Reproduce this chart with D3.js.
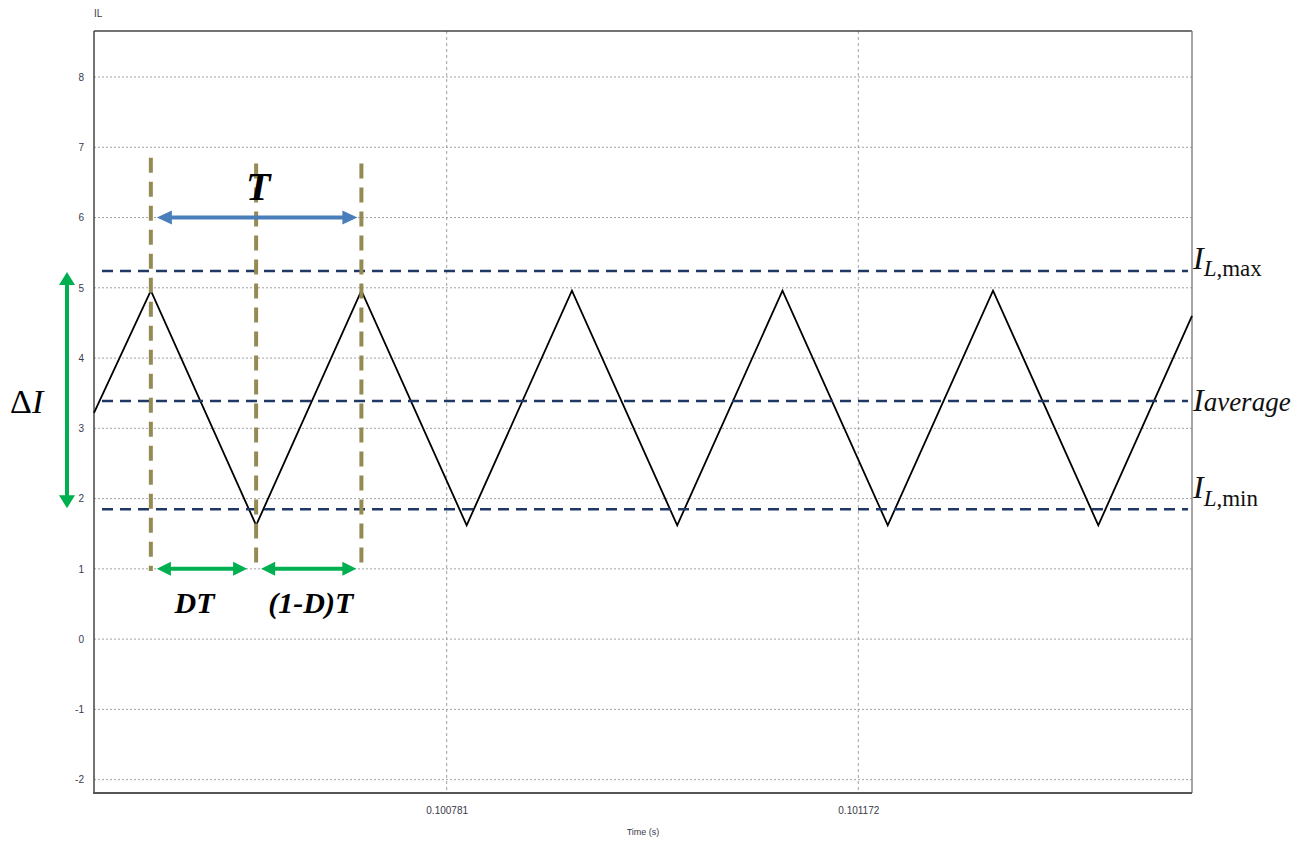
<!DOCTYPE html>
<html>
<head>
<meta charset="utf-8">
<script src="https://cdn.jsdelivr.net/npm/d3@7"></script>
<style>
  html, body { margin: 0; padding: 0; background: #fff; }
  svg { display: block; }
</style>
</head>
<body>
<svg id="chart" width="1300" height="841"></svg>
<script>
// Inductor current waveform of a switching converter
const timeTicks = [0.100781, 0.101172];
const timeTickLabels = ["0.100781", "0.101172"];
const currentTicks = [-2, -1, 0, 1, 2, 3, 4, 5, 6, 7, 8];

// vertices of the triangular inductor current (time in s, current in A)
const vertexTimes = [0.100446, 0.1005, 0.1006, 0.1007, 0.1008, 0.1009, 0.1010, 0.1011, 0.1012, 0.1013, 0.1014, 0.101489];
const vertexCurrents = [3.22, 4.96, 1.62, 4.96, 1.62, 4.96, 1.62, 4.96, 1.62, 4.96, 1.62, 4.60];

// reference levels drawn as dashed lines
const levelKeys = ["max", "average", "min"];
const levelValues = [5.24, 3.39, 1.85];

// switching instants marking one period
const switchTimes = [0.1005, 0.1006, 0.1007];

const svg = d3.select("#chart");
const plotL = 94, plotR = 1192, plotT = 31, plotB = 793;

const x = d3.scaleLinear().domain([0.100446, 0.101489]).range([plotL, plotR]);
const y = d3.scaleLinear().domain([-2.19, 8.655]).range([plotB, plotT]);

// grid
const grid = svg.append("g");
grid.selectAll(".hg").data(currentTicks).join("line")
  .attr("x1", plotL).attr("x2", plotR)
  .attr("y1", d => y(d)).attr("y2", d => y(d))
  .attr("stroke", "#a0a0a0").attr("stroke-width", 1)
  .attr("stroke-dasharray", "2,2");
grid.selectAll(".vg").data(timeTicks).join("line")
  .attr("x1", d => x(d)).attr("x2", d => x(d))
  .attr("y1", plotT).attr("y2", plotB)
  .attr("stroke", "#a0a0a0").attr("stroke-width", 1)
  .attr("stroke-dasharray", "3,3");

// axes (labels only, frame drawn separately)
const yAxis = d3.axisLeft(y).tickValues(currentTicks).tickSize(0).tickPadding(10).tickFormat(d => String(d));
const gy = svg.append("g").attr("transform", `translate(${plotL},0)`).call(yAxis);
gy.select(".domain").remove();
gy.selectAll("text").attr("font-family", "Liberation Sans, Arial, sans-serif")
  .attr("font-size", 10).attr("fill", "#3a3a4a");

const xAxis = d3.axisBottom(x).tickValues(timeTicks).tickSize(0).tickPadding(14)
  .tickFormat((d, i) => timeTickLabels[i]);
const gx = svg.append("g").attr("transform", `translate(0,${plotB})`).call(xAxis);
gx.select(".domain").remove();
gx.selectAll("text").attr("font-family", "Liberation Sans, Arial, sans-serif")
  .attr("font-size", 10).attr("fill", "#3a3a4a");

// frame
svg.append("line").attr("x1", plotL).attr("x2", plotL).attr("y1", plotT).attr("y2", plotB)
  .attr("stroke", "#444").attr("stroke-width", 1.5);
svg.append("line").attr("x1", plotL).attr("x2", plotR).attr("y1", plotT).attr("y2", plotT)
  .attr("stroke", "#444").attr("stroke-width", 1.5);
svg.append("line").attr("x1", plotR).attr("x2", plotR).attr("y1", plotT).attr("y2", plotB)
  .attr("stroke", "#888").attr("stroke-width", 1.5);
svg.append("line").attr("x1", plotL - 1).attr("x2", plotR).attr("y1", plotB).attr("y2", plotB)
  .attr("stroke", "#555").attr("stroke-width", 2);

// axis titles
svg.append("text").attr("x", plotL).attr("y", 17).text("IL")
  .attr("font-family", "Liberation Sans, Arial, sans-serif").attr("font-size", 10).attr("fill", "#3a3a4a");
svg.append("text").attr("x", (plotL + plotR) / 2).attr("y", 835).attr("text-anchor", "middle").text("Time (s)")
  .attr("font-family", "Liberation Sans, Arial, sans-serif").attr("font-size", 9).attr("fill", "#3a3a4a");

// waveform
const pts = vertexTimes.map((t, i) => [t, vertexCurrents[i]]);
svg.append("path").datum(pts)
  .attr("d", d3.line().x(d => x(d[0])).y(d => y(d[1])))
  .attr("fill", "none").attr("stroke", "#000").attr("stroke-width", 1.8)
  .attr("stroke-linejoin", "miter");

// dashed level lines
svg.selectAll(".lvl").data(levelValues).join("line")
  .attr("x1", plotL + 8).attr("x2", plotR - 4)
  .attr("y1", d => y(d)).attr("y2", d => y(d))
  .attr("stroke", "#1f3864").attr("stroke-width", 2.5)
  .attr("stroke-dasharray", "11,7");

// switching instants
svg.selectAll(".sw").data(switchTimes).join("line")
  .attr("x1", d => x(d)).attr("x2", d => x(d))
  .attr("y1", (d, i) => i === 0 ? y(6.85) : y(6.77)).attr("y2", y(0.97))
  .attr("stroke", "#948a54").attr("stroke-width", 4)
  .attr("stroke-dasharray", "15,9");

// double-headed arrow helper
function arrow(x1, y1, x2, y2, color, width, headLen, headHalf) {
  const dx = x2 - x1, dy = y2 - y1, L = Math.hypot(dx, dy);
  const ux = dx / L, uy = dy / L, nx = -uy, ny = ux;
  const g = svg.append("g");
  g.append("line")
    .attr("x1", x1 + ux * headLen * 0.8).attr("y1", y1 + uy * headLen * 0.8)
    .attr("x2", x2 - ux * headLen * 0.8).attr("y2", y2 - uy * headLen * 0.8)
    .attr("stroke", color).attr("stroke-width", width);
  const head = (px, py, sx, sy) => [
    [px, py],
    [px + sx * headLen + nx * headHalf, py + sy * headLen + ny * headHalf],
    [px + sx * headLen - nx * headHalf, py + sy * headLen - ny * headHalf]
  ];
  [head(x1, y1, ux, uy), head(x2, y2, -ux, -uy)].forEach(p => {
    g.append("polygon").attr("points", p.map(q => q.join(",")).join(" ")).attr("fill", color);
  });
}

// period T
arrow(x(switchTimes[0]) + 6, y(6), x(switchTimes[2]) - 4, y(6), "#4a7ebb", 4, 15, 7);
// DT and (1-D)T
arrow(x(switchTimes[0]) + 6, y(1), x(switchTimes[1]) - 9, y(1), "#00b050", 4, 14, 7);
arrow(x(switchTimes[1]) + 5, y(1), x(switchTimes[2]) - 5, y(1), "#00b050", 4, 14, 7);
// ripple ΔI
arrow(67, y(levelValues[0]) + 1, 67, y(levelValues[2]) - 1, "#00b050", 4, 13, 8);

const serif = "Liberation Serif, Times New Roman, serif";

svg.append("text").attr("x", (x(switchTimes[0]) + x(switchTimes[2])) / 2 + 2).attr("y", 200)
  .attr("text-anchor", "middle").attr("font-family", serif).attr("font-size", 40)
  .attr("font-weight", "bold").attr("font-style", "italic").text("T");
svg.append("text").attr("x", (x(switchTimes[0]) + x(switchTimes[1])) / 2 - 9).attr("y", 613)
  .attr("text-anchor", "middle").attr("font-family", serif).attr("font-size", 30)
  .attr("font-weight", "bold").attr("font-style", "italic").text("DT");
svg.append("text").attr("x", (x(switchTimes[1]) + x(switchTimes[2])) / 2 + 2).attr("y", 613)
  .attr("text-anchor", "middle").attr("font-family", serif).attr("font-size", 30)
  .attr("font-weight", "bold").attr("font-style", "italic").text("(1-D)T");

// ΔI
const dI = svg.append("text").attr("x", 10).attr("y", 413).attr("font-family", serif).attr("font-size", 34);
dI.append("tspan").text("Δ");
dI.append("tspan").attr("font-style", "italic").text("I");

// level labels
const lbl = (yy, parts) => {
  const t = svg.append("text").attr("x", plotR + 1).attr("y", yy).attr("font-family", serif).attr("fill", "#111");
  parts.forEach(p => {
    const s = t.append("tspan").text(p.t).attr("font-size", p.size);
    if (p.italic) s.attr("font-style", "italic");
    if (p.dy) s.attr("dy", p.dy);
  });
};
lbl(y(levelValues[0]) - 2, [
  { t: "I", size: 32, italic: true },
  { t: "L", size: 23, italic: true, dy: 7 },
  { t: "," + levelKeys[0], size: 23 }
]);
lbl(y(levelValues[1]) + 10, [
  { t: "I", size: 32, italic: true },
  { t: levelKeys[1], size: 27, italic: true, dy: 0 }
]);
lbl(y(levelValues[2]) - 11, [
  { t: "I", size: 32, italic: true },
  { t: "L", size: 23, italic: true, dy: 8 },
  { t: "," + levelKeys[2], size: 23 }
]);
</script>
</body>
</html>
